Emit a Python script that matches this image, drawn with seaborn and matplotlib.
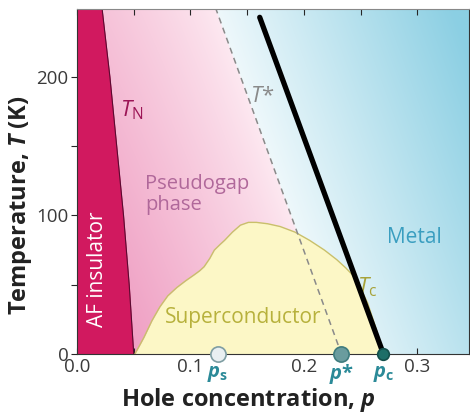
import numpy as np
import pandas as pd
import matplotlib
matplotlib.use("Agg")
import matplotlib.pyplot as plt
from matplotlib.colors import to_rgb
import seaborn as sns

# ---------------- data ----------------
tn_T = [0, 50, 100, 150, 200, 250]
tn_p = [0.050, 0.046, 0.041, 0.035, 0.029, 0.022]

dome_p = [0.051, 0.055, 0.059, 0.066, 0.073, 0.080, 0.088, 0.096, 0.103, 0.108,
          0.112, 0.117, 0.121, 0.126, 0.130, 0.137, 0.144, 0.151, 0.158, 0.168,
          0.179, 0.192, 0.205, 0.218, 0.229, 0.237, 0.244, 0.250, 0.256, 0.260,
          0.264, 0.267, 0.270]
dome_T = [0, 6, 12, 24, 34, 42, 48, 53, 57, 60,
          63, 69, 75, 79, 82, 88, 93, 95, 95, 94,
          92, 88, 82, 75, 68, 62, 56, 47, 37, 27,
          17, 8, 0]

tstar_p = [0.122, 0.233]
tstar_T = [250, 0]

qcp_p = [0.161, 0.270]
qcp_T = [243, 0]

marker_p = [0.124, 0.233, 0.270]
marker_names = ["s", "*", "c"]

x_ticks = [0.0, 0.1, 0.2, 0.3]
y_ticks = [0, 100, 200]

# ---------------- style ----------------
sns.set_style("ticks")
plt.rcParams["font.family"] = ["Open Sans", "DejaVu Sans"]
plt.rcParams["mathtext.fontset"] = "custom"
plt.rcParams["mathtext.it"] = "Open Sans:italic"
plt.rcParams["mathtext.bf"] = "Open Sans:bold"
plt.rcParams["mathtext.bfit"] = "Open Sans:italic:bold"
plt.rcParams["mathtext.rm"] = "Open Sans"

fig = plt.figure(figsize=(4.70, 4.13), dpi=100)
ax = fig.add_axes([77 / 470, 59 / 413, 392 / 470, 345 / 413])
XMAX, YMAX = 0.3454, 249
ax.set_xlim(0, XMAX)
ax.set_ylim(0, YMAX)

# background: pink left of T*, blue right of it
nx, ny = 600, 300
px = np.linspace(0, XMAX, nx)
ty = np.linspace(0, YMAX, ny)
P, T = np.meshgrid(px, ty)
pstar = np.interp(T, tstar_T[::-1], tstar_p[::-1])
ptn = np.interp(T, tn_T, tn_p)
pink_lo = np.array(to_rgb("#ef9fc3"))
pink_hi = np.array(to_rgb("#f6c3d9"))
vert = (T / YMAX)[..., None]
pink_full = pink_lo * (1 - vert) + pink_hi * vert
pink_pale = np.array(to_rgb("#fde9f1"))
tp = np.clip((pstar - P) / (pstar - ptn), 0, 1)[..., None] ** 0.85
pinkimg = pink_pale * (1 - tp) + pink_full * tp
lblue = np.array(to_rgb("#eef8fb"))
blue = np.array(to_rgb("#8bcfe3"))
tb = np.clip((P - pstar) / 0.21, 0, 1)[..., None]
blueimg = lblue * (1 - tb) + blue * tb
img = np.where((P < pstar)[..., None], pinkimg, blueimg)
ax.imshow(img, origin="lower", extent=[0, XMAX, 0, YMAX], aspect="auto", zorder=0,
          interpolation="bilinear")

# AF insulator region
ax.fill_betweenx(tn_T, 0, tn_p, color="#d1195f", zorder=1, lw=0)
sns.lineplot(x=tn_p, y=tn_T, sort=False, estimator=None, color="#5a0a30", lw=0.8, ax=ax, zorder=2)

# superconducting dome
ax.fill_between(dome_p, 0, dome_T, color="#fcf7c6", zorder=2, lw=0)
sns.lineplot(x=dome_p, y=dome_T, sort=False, estimator=None, color="#c9c06a", lw=1.0, ax=ax, zorder=3)

# T* dashed line
sns.lineplot(x=tstar_p, y=tstar_T, sort=False, estimator=None, color="#8a8a8a", lw=1.1,
             ax=ax, zorder=4, linestyle=(0, (4, 3)))
# thick black line
sns.lineplot(x=qcp_p, y=qcp_T, sort=False, estimator=None, color="black", lw=3.8,
             ax=ax, zorder=5)

# markers on the axis
faces = ["#e9eff1", "#6a9c9e", "#1d6e68"]
edges = ["#7f9ea3", "#3f7c7e", "#134f4b"]
sizes = [120, 120, 70]
for i in range(3):
    sns.scatterplot(x=[marker_p[i]], y=[0], s=sizes[i], color=faces[i], edgecolor=edges[i],
                    linewidth=1.2, ax=ax, zorder=10, clip_on=False)

# texts
ax.text(0.038, 176, r"$T_{\mathrm{N}}$", color="#9c1556", fontsize=16, ha="left", va="center")
ax.text(0.152, 186, r"$T$*", color="#8a8a8a", fontsize=16, ha="left", va="center")
ax.text(0.060, 115, "Pseudogap\nphase", color="#b0689a", fontsize=14.5, ha="left", va="center",
        linespacing=1.1)
ax.text(0.018, 61, "AF insulator", color="white", fontsize=15, rotation=90, ha="center", va="center")
ax.text(0.297, 84, "Metal", color="#3a9ec0", fontsize=15, ha="center", va="center")
ax.text(0.146, 26, "Superconductor", color="#b7b13c", fontsize=15, ha="center", va="center")
ax.text(0.247, 48, r"$T_{\mathrm{c}}$", color="#a7a23a", fontsize=16, ha="left", va="center")

labcol = "#2b8a98"
for pv, nm in zip(marker_p, marker_names):
    if nm == "*":
        s = r"$\mathbfit{p}$*"
    else:
        s = r"$\mathbfit{p}_{\mathbf{" + nm + "}}$"
    ax.text(pv, -14.5, s, color=labcol, fontsize=14.5, ha="center", va="center", fontweight="bold")

# axes styling
ax.set_xticks(x_ticks)
ax.set_xticklabels([f"{v:.1f}" for v in x_ticks])
ax.set_yticks(y_ticks)
ax.set_xticks([0.05, 0.15, 0.25], minor=True)
ax.set_yticks([50, 150], minor=True)
ax.tick_params(axis="x", which="both", direction="in", top=True, length=4, width=0.8,
               labelsize=13.5, labelcolor="#3a3a3a", pad=3)
ax.tick_params(axis="y", which="both", direction="out", right=True, length=4, width=0.8,
               labelsize=13.5, labelcolor="#3a3a3a", pad=2)
for sp in ax.spines.values():
    sp.set_linewidth(0.8)
    sp.set_color("#333333")
    sp.set_zorder(6)
ax.spines["top"].set_color("#888888")

fig.text(248 / 470, 1 - 400 / 413, r"Hole concentration, $\mathbfit{p}$", ha="center", va="center",
         fontsize=17, fontweight="bold", color="#222222")
fig.text(21 / 470, 1 - 205 / 413, r"Temperature, $\mathbfit{T}$ (K)", ha="center", va="center",
         fontsize=17, fontweight="bold", color="#222222", rotation=90)

fig.savefig("out.png", dpi=100)
